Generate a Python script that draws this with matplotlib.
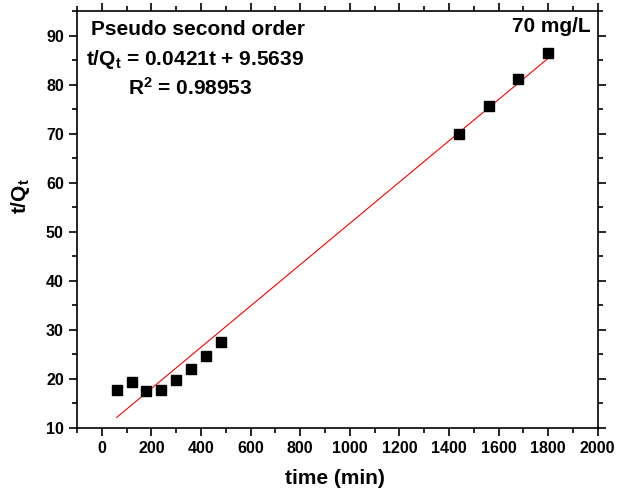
import matplotlib
matplotlib.use('Agg')
import matplotlib.pyplot as plt
from matplotlib.ticker import MultipleLocator

plt.rcParams['font.family'] = ['Liberation Sans', 'DejaVu Sans']
plt.rcParams['font.weight'] = 'bold'
plt.rcParams['mathtext.fontset'] = 'custom'
plt.rcParams['mathtext.rm'] = 'Liberation Sans:bold'
plt.rcParams['mathtext.it'] = 'Liberation Sans:bold'
plt.rcParams['mathtext.bf'] = 'Liberation Sans:bold'

# experimental points
time_min = [60, 120, 180, 240, 300, 360, 420, 480, 1440, 1560, 1680, 1800]
t_over_q = [17.7, 19.3, 17.5, 17.7, 19.8, 21.9, 24.6, 27.4, 70.0, 75.7, 81.1, 86.5]

# linear fit
slope = 0.0421
intercept = 9.5639
fit_x = [60, 1800]
fit_y = [slope * x + intercept for x in fit_x]

fig = plt.figure(figsize=(6.17, 4.91), dpi=100)
ax = fig.add_axes([0.1248, 0.129, 0.8439, 0.8486])

ax.plot(fit_x, fit_y, color='red', linewidth=0.8)
ax.plot(time_min, t_over_q, linestyle='none', marker='s', markersize=7,
        color='black')

ax.set_xlim(-100, 2000)
ax.set_ylim(10, 95)
ax.xaxis.set_major_locator(MultipleLocator(200))
ax.xaxis.set_minor_locator(MultipleLocator(100))
ax.yaxis.set_major_locator(MultipleLocator(10))
ax.yaxis.set_minor_locator(MultipleLocator(5))

ax.tick_params(which='both', direction='out', width=1.2, labelsize=11.5)
ax.tick_params(which='major', length=6)
ax.tick_params(which='minor', length=3.5)
ax.tick_params(which='both', top=True, right=True)
for lab in ax.get_xticklabels() + ax.get_yticklabels():
    lab.set_fontweight('bold')
for s in ax.spines.values():
    s.set_linewidth(1.2)

ax.set_xlabel('time (min)', fontsize=15, fontweight='bold')
ax.set_ylabel('t/Q$_t$', fontsize=15, fontweight='bold')
ax.xaxis.label.set_va('center')
ax.yaxis.label.set_va('center')
ax.xaxis.set_label_coords(0.4945, -0.121)
ax.yaxis.set_label_coords(-0.109, 0.556)

ax.text(0.232, 0.956, 'Pseudo second order', transform=ax.transAxes,
        ha='center', va='center', fontsize=15, fontweight='bold')
ax.text(0.226, 0.884, 't/Q$_t$ = 0.0421t + 9.5639', transform=ax.transAxes,
        ha='center', va='center', fontsize=15, fontweight='bold')
ax.text(0.218, 0.815, 'R$^2$ = 0.98953', transform=ax.transAxes,
        ha='center', va='center', fontsize=15, fontweight='bold')
ax.text(0.987, 0.962, '70 mg/L', transform=ax.transAxes,
        ha='right', va='center', fontsize=15, fontweight='bold')

fig.savefig('out.png', dpi=100)
plt.close(fig)
